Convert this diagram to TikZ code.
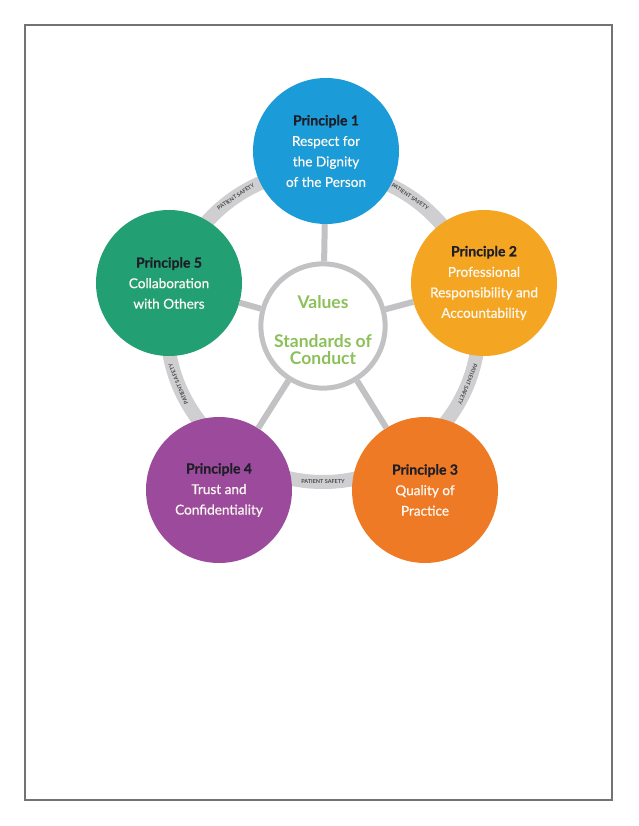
\documentclass[tikz,border=0pt]{standalone}
\usepackage{fontspec}
\setmainfont{Lato}
\newfontfamily\bodyfont{Lato}[FakeBold=0.6]
\usetikzlibrary{calc}
\definecolor{pblue}{HTML}{1B9BD7}
\definecolor{pyellow}{HTML}{F4A623}
\definecolor{porange}{HTML}{EF7A25}
\definecolor{ppurple}{HTML}{9C4B9C}
\definecolor{pgreen}{HTML}{22A074}
\definecolor{ringgray}{HTML}{CFCFD1}
\definecolor{spokegray}{HTML}{C2C2C4}
\definecolor{titledark}{HTML}{1E1E28}
\definecolor{valgreen}{HTML}{8CC05A}
\definecolor{pslabelgray}{HTML}{4A4A4A}
\definecolor{bodywhite}{HTML}{FBF8F2}
\newcommand{\ptitle}[1]{{\fontsize{14}{20.5}\selectfont\bfseries\color{titledark}#1}}
\begin{document}
\begin{tikzpicture}[x=1pt,y=-1pt,
  pcirc/.style={circle, minimum size=146pt, inner sep=0pt, align=center, text=bodywhite,
    font=\bodyfont\fontsize{13.6}{20.5}\selectfont},
  pslabel/.style={font=\fontsize{5.5}{5.5}\selectfont\bfseries, text=pslabelgray, inner sep=0pt},
  spoke/.style={draw=spokegray, line width=6pt},
  ringline/.style={draw=ringgray, line width=14pt},
  center/.style={circle, draw=spokegray, line width=5pt, fill=white, minimum size=121pt,
    inner sep=0pt, align=center, text=valgreen, font=\fontsize{17.5}{17}\selectfont\bfseries},
  page/.style={draw=black!55, line width=1.2pt}
]
\useasboundingbox (0,0) rectangle (638,826);
\fill[white] (0,0) rectangle (638,826);
\draw[page] (25,25) rectangle (612,800);

\coordinate (o) at (323,326);
\draw[ringline] (o) circle[radius=156pt];

\node[pslabel, rotate=34]   (s51) at ($(o)+(124:156pt)$) {PATIENT SAFETY};
\node[pslabel, rotate=-34]  (s12) at ($(o)+(56:156pt)$)  {PATIENT SAFETY};
\node[pslabel, rotate=-112] (s23) at ($(o)+(-22:156pt)$) {PATIENT SAFETY};
\node[pslabel, rotate=0]    (s34) at ($(o)+(-90:156pt)$) {PATIENT SAFETY};
\node[pslabel, rotate=112]  (s45) at ($(o)+(202:156pt)$) {PATIENT SAFETY};

\node[center] (c) at (o) {\rule{0pt}{21pt}Values\\[22pt]Standards of\\Conduct};

\node[pcirc, fill=pblue] (p1) at (326,151)
  {\ptitle{Principle 1}\\Respect for\\the Dignity\\of the Person};
\node[pcirc, fill=pyellow] (p2) at (484,283)
  {\ptitle{Principle 2}\\Professional\\Responsibility and\\Accountability};
\node[pcirc, fill=porange] (p3) at (425,490)
  {\ptitle{Principle 3}\\Quality of\\Practice};
\node[pcirc, fill=ppurple] (p4) at (219,490)
  {\ptitle{Principle 4}\\Trust and\\Confidentiality};
\node[pcirc, fill=pgreen] (p5) at (169,283)
  {\ptitle{Principle 5}\\Collaboration\\with Others};

\draw[spoke] (c) -- (p1);
\draw[spoke] (c) -- (p2);
\draw[spoke] (c) -- (p3);
\draw[spoke] (c) -- (p4);
\draw[spoke] (c) -- (p5);
\end{tikzpicture}
\end{document}
